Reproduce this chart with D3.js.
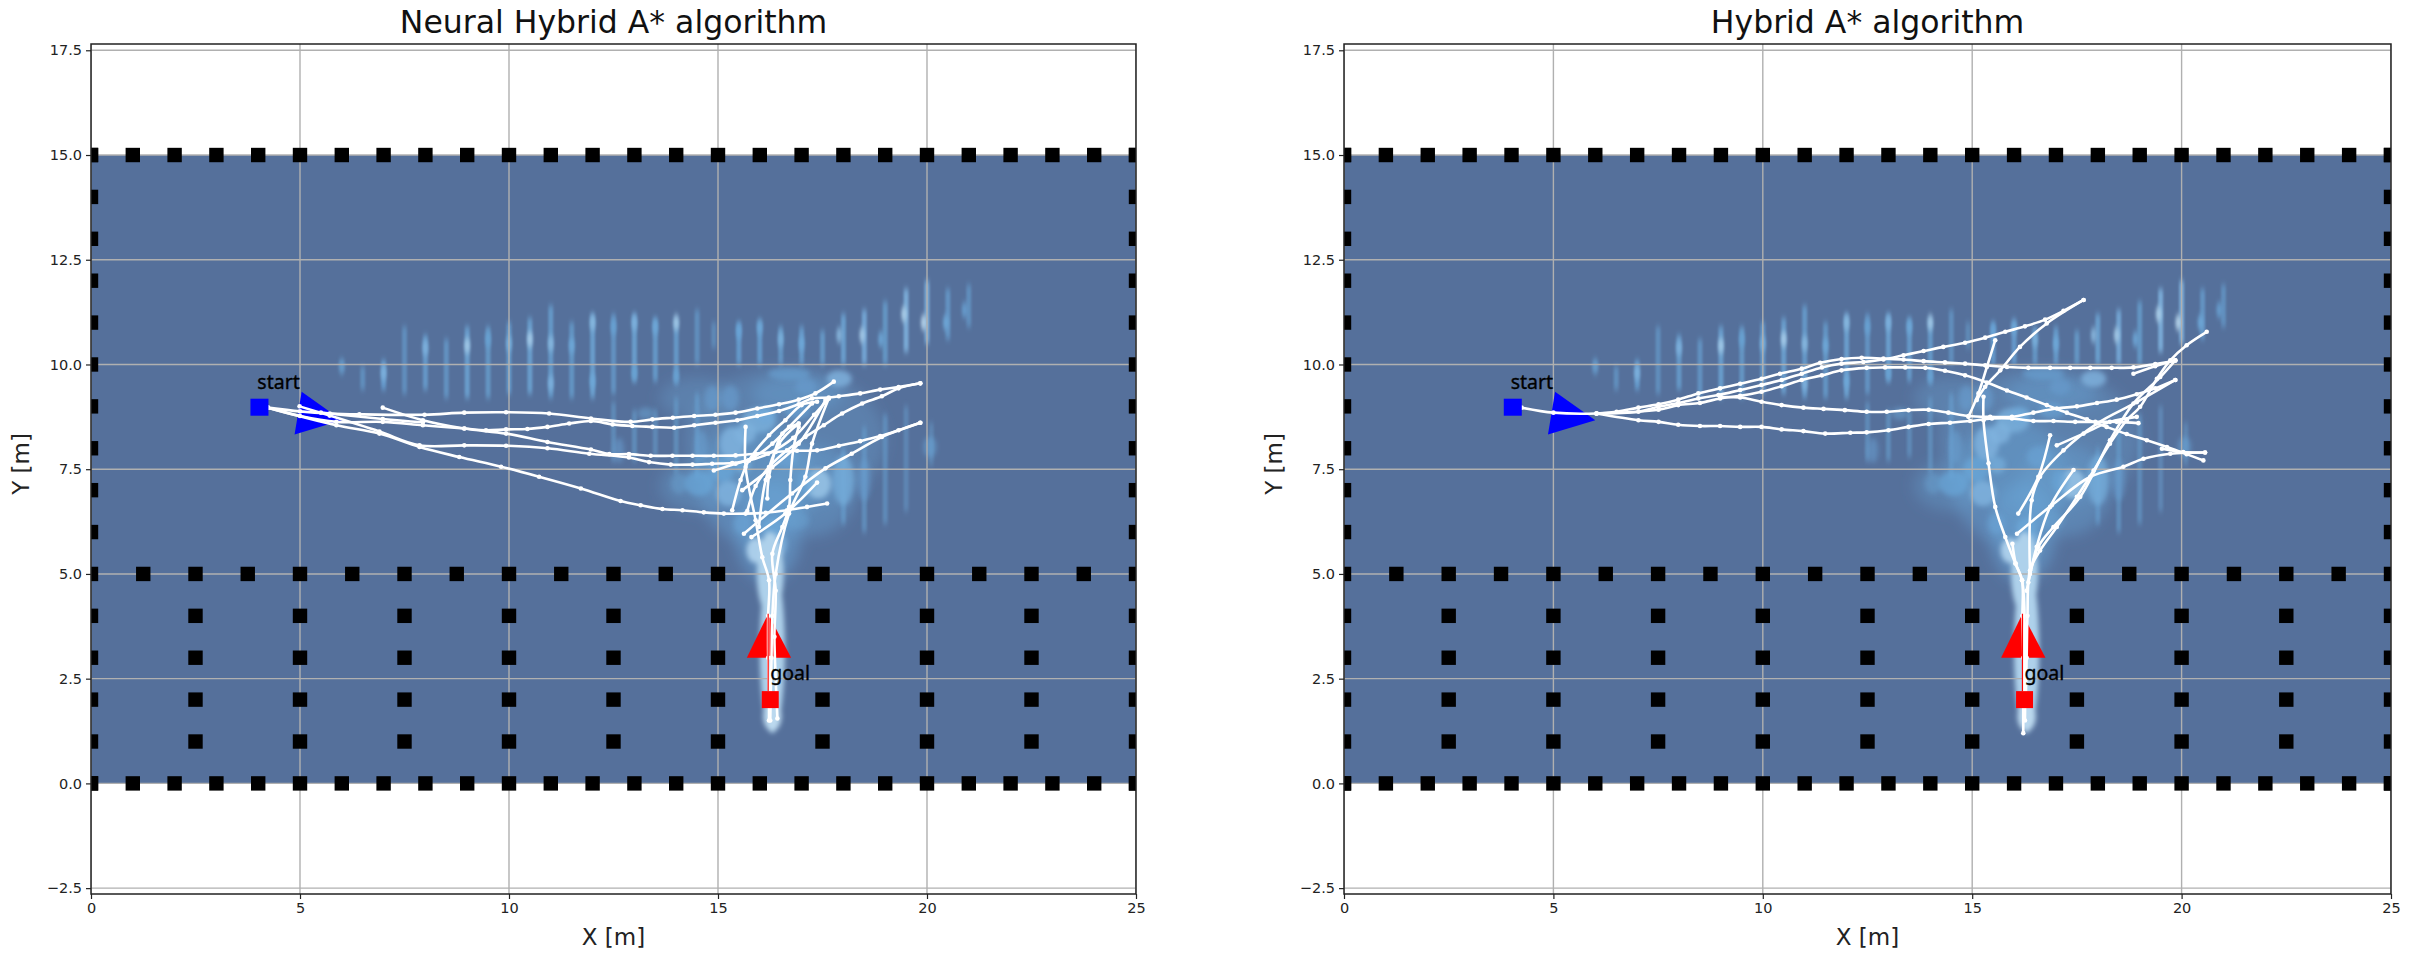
<!DOCTYPE html>
<html><head><meta charset="utf-8">
<script src="https://cdn.jsdelivr.net/npm/d3@7/dist/d3.min.js"></script>
<style>html,body{margin:0;background:#fff}svg{display:block}text{font-family:"DejaVu Sans"}</style>
</head><body><svg id="c" width="2411" height="961"></svg>
<script>
const titles = ["Neural Hybrid A* algorithm", "Hybrid A* algorithm"];
const xTicks = [0,5,10,15,20,25];
const yTicks = [-2.5,0,2.5,5,7.5,10,12.5,15,17.5];
const xDomain = [0,25], yDomain = [-2.64,17.65];
const heatExtent = {x0:0,x1:25,y0:0,y1:15};

// obstacle coordinates
const wallCols = [0,1,2,3,4,5,6,7,8,9,10,11,12,13,14,15,16,17,18,19,20,21,22,23,24,25];
const wallRows = [0,1,2,3,4,5,6,7,8,9,10,11,12,13,14,15];
const midRowX = [1.25,2.5,3.75,5,6.25,7.5,8.75,10,11.25,12.5,13.75,15,17.5,18.75,20,21.25,22.5,23.75];
const pillarX = [2.5,5,7.5,10,12.5,15,17.5,20,22.5];
const pillarY = [1,2,3,4];

// vertical streaks of the heat map: x, y from, y to, strength
const streaks = [
[6,9.9,10.05,.3],[6.5,9.4,9.95,.3],[7,9.4,10.1,.4],[7.5,9.3,10.9,.3],[8,9.4,10.7,.38],[8.5,9.2,10.6,.33],
[9,9.2,10.9,.42],[9.5,9.2,10.9,.36],[10,9.3,11,.4],[10.5,9.3,11.1,.42],[11,9.2,11.4,.38],[11.5,9.2,11,.35],
[12,9.2,11.2,.42],[12.5,9.3,11.2,.33],[13,9.6,11.2,.42],[13.5,9.6,11.1,.38],[14,9.6,11.1,.38],[14.5,10,11.3,.3],
[14.9,10.4,11,.25],[15.5,10,11,.4],[16,10,11,.4],[16.5,10,10.9,.36],[17,10,10.9,.38],[17.5,10,10.8,.36],
[18,10,11.2,.42],[18.5,10,11.3,.46],[19,10,11.5,.36],[19.5,10.3,11.8,.5],[20,10.5,12,.5],[20.5,10.6,11.8,.34],[21,10.9,11.9,.3],
[12.5,7.7,9.1,.25],[13,7.7,8.9,.27],[13.5,7.8,8.9,.25],[14,7.4,9.2,.27],[14.5,7.3,9.3,.3],[18,6.2,8,.3],[18.5,6,8.5,.28],[19,6.2,8.8,.26],[19.5,6.5,9,.22],[20.1,7.6,8.6,.2]
];
// bright spots on those streaks: x, y, strength
const spots = [
[7,9.8,.5],[6,9.95,.28],[8,10.4,.5],[9,10.45,.68],[9.5,10.6,.35],[10,10.5,.48],[10.5,10.6,.7],[11,10.5,.55],[11,9.55,.5],
[11.5,10.45,.42],[12,11,.55],[12,9.6,.42],[12.5,10.9,.35],[13,11,.5],[13.5,10.9,.42],[14,11,.68],[15.5,10.8,.4],[16,10.9,.42],[16.5,10.6,.48],
[17,10.5,.42],[17.9,10.7,.55],[18.45,10.7,.68],[18.9,10.6,.42],[19.45,11.2,.72],[19.92,11,.78],[20.45,11,.42],[20.9,11.3,.33],[14,9.7,.35],[13,9.8,.35]
];
// broad haze of the funnel around the goal lane: x, y, radius x, radius y, strength
const blobs = [
[16.6,8.2,2.4,1.7,.12],[15.9,7.2,1.4,1.5,.2],[17.2,7,1.1,1.1,.18],[16.2,6,.8,1.2,.25],[16.9,9.3,1.1,.45,.18],[14.5,7.1,.9,.6,.14],[14.5,9.2,.9,.5,.12]
];
// mottled light patches inside the funnel and along the lane: x, y, radius x, radius y, strength
const patches = [
[17.9,9.66,.3,.2,.5],[16.7,9.78,.5,.15,.35],[17.1,9.47,.25,.2,.3],[15.98,8.67,.4,.3,.48],[15.34,8.11,.3,.4,.5],[15.66,8.35,.25,.25,.5],
[14.86,9.2,.18,.3,.3],[15.3,9.2,.2,.3,.3],[16.14,8.8,.25,.2,.42],[14.55,7.16,.35,.3,.4],[14.07,7.16,.2,.25,.28],[15.26,6.92,.3,.3,.5],
[17.4,7.15,.3,.35,.6],[18,7.24,.25,.6,.45],[18.5,7.24,.15,.5,.3],[16.6,7.8,.3,.25,.36],[17.1,7.2,.2,.3,.38],[15.9,5.56,.22,.3,.7],
[16.45,5.7,.2,.3,.5],[16.3,6.1,.25,.25,.42],[15.58,6.2,.2,.25,.36],[16.93,6.28,.25,.2,.28],[20.07,8.03,.15,.25,.35],[14.6,8.03,.15,.4,.32],
[12.63,7.95,.12,.3,.3],[13.27,8.83,.2,.15,.28],[15.1,7.5,.3,.3,.4],[16.9,8.9,.3,.2,.35],[15.6,7.6,.2,.2,.45],
[16.25,5,.32,1,.72],[16.3,3.2,.3,2,.72],[16.3,1.6,.22,.35,.78]
];

// start and goal
const startPt = [4.03,8.98], goalPt = [16.25,2];
const startArrow = [[5.04,9.35],[6.0,8.67],[4.87,8.33]];
const goalArrow = [[16.2,4.05],[16.75,3],[15.69,3]];
const goalShaft = [[16.2,2.2],[16.2,4.05]];
const startLabel = [3.98,9.42], goalLabel = [16.25,2.47];

// searched paths, left panel
const pathsLeft = [
[[4.23,8.97],[5,8.88],[5.71,8.83],[6.42,8.81],[7.98,8.8],[8.93,8.85],[9.93,8.86],[10.96,8.83],[11.96,8.71],[12.91,8.63],[13.43,8.69],[13.92,8.73],[14.43,8.77],[14.94,8.8],[15.42,8.85],[15.94,8.95],[16.46,9.05],[16.93,9.16],[17.33,9.31],[17.77,9.59]],
[[4.23,8.97],[5,8.77],[5.87,8.63],[6.98,8.63],[7.94,8.55],[8.93,8.47],[9.45,8.43],[9.93,8.45],[10.44,8.46],[10.92,8.51],[11.44,8.59],[11.96,8.65],[12.48,8.57],[12.95,8.53],[13.43,8.51],[13.95,8.49],[14.43,8.55],[14.94,8.61],[15.46,8.67],[15.94,8.77],[16.46,8.89],[16.93,9.05],[17.25,9.19],[17.65,9.21],[17.89,9.24],[18.4,9.31],[18.88,9.4],[19.32,9.46],[19.84,9.55]],
[[6.98,8.97],[7.94,8.67],[8.93,8.47],[9.93,8.35],[10.92,8.15],[11.96,7.97],[12.4,7.86],[12.87,7.86],[13.39,7.82],[13.91,7.82],[14.39,7.82],[14.9,7.82],[15.42,7.83],[15.9,7.87],[16.38,7.91],[16.89,7.94],[17.37,7.95],[17.89,8.06],[18.4,8.17],[18.88,8.29],[19.32,8.43],[19.84,8.61]],
[[4.99,9],[5.71,8.78],[6.9,8.4],[7.86,8.07],[8.93,8.07],[9.93,8.06],[10.92,8],[11.92,7.87],[12.87,7.78],[13.35,7.67],[13.87,7.61],[14.39,7.61],[14.86,7.63],[15.34,7.65],[15.74,7.71],[16.2,7.87],[16.8,8.25],[17.3,8.8],[17.65,9.19]],
[[4.23,8.97],[5.87,8.55],[6.9,8.35],[7.86,8.03],[8.81,7.79],[9.81,7.56],[10.72,7.32],[11.72,7.04],[12.67,6.74],[13.15,6.64],[13.67,6.55],[14.15,6.52],[14.66,6.47],[15.14,6.44],[15.66,6.44],[16.14,6.46],[16.65,6.52],[17.13,6.6],[17.61,6.68]],
[[5.5,8.85],[6.98,8.7],[7.94,8.62]],
[[19.84,9.55],[19.32,9.43],[18.92,9.24],[18.45,9.07],[17.97,8.83],[17.53,8.55],[17.09,8.27],[16.65,7.95],[16.22,7.55],[15.9,7.1],[15.7,6.5]],
[[15.66,8.51],[15.66,7.55],[15.9,6.28],[16.06,5.4],[16.22,4.85],[16.2,4],[16.2,3],[16.22,2],[16.22,1.5]],
[[15.34,6.52],[15.54,7.24],[15.74,7.71],[16.22,8.31],[16.61,8.67],[17,9.03],[17.37,9.11]],
[[15.58,7],[16.3,7.55],[16.93,8.11],[17.57,9.15]],
[[14.9,7.47],[15.42,7.63],[15.86,7.79],[16.3,8.11],[16.7,8.51],[17.25,9.07]],
[[19.84,8.61],[18.92,8.27],[18.2,7.87],[17.57,7.52],[16.77,6.92],[15.62,5.96]],
[[15.8,5.88],[16.61,6.44],[17.37,7.18]],
[[16.18,6.8],[16.22,7.32],[16.54,8.35],[16.93,8.59]],
[[16.93,8.51],[16.81,8.03],[16.73,7.24],[16.7,6.6],[16.54,6.12],[16.3,5.48],[16.38,4.6],[16.35,3.5],[16.38,2.5],[16.42,1.55]],
[[17.65,9.19],[17.25,8.11],[17.09,7.32],[16.7,6.44],[16.38,5],[16.3,4],[16.28,3],[16.25,1.5]],
[[15.98,6.12],[16.14,7.24],[16.46,8.11],[16.93,8.59]]
];
// searched paths, right panel
const pathsRight = [
[[4.24,8.97],[5,8.85],[6.03,8.83],[6.51,8.87],[7.03,8.97],[7.51,9.05],[7.98,9.16],[8.46,9.31],[8.98,9.43],[9.46,9.54],[9.97,9.66],[10.41,9.78],[10.93,9.9],[11.37,10.04],[11.88,10.13],[12.36,10.16],[12.88,10.14],[13.36,10.12],[13.84,10.08],[14.35,10.05],[14.83,10.02],[15.31,9.98],[15.83,9.94],[16.34,9.92],[16.86,9.92],[17.34,9.92],[17.82,9.92],[18.33,9.92],[18.85,9.93],[19.37,10.01],[19.85,10.09]],
[[6.03,8.83],[7.03,8.87],[7.51,8.99],[7.98,9.08],[8.46,9.19],[8.94,9.27],[9.46,9.39],[9.97,9.51],[10.45,9.63],[10.93,9.78],[11.41,9.93],[11.88,10.02],[12.4,10.06],[12.88,10.12],[13.36,10.22],[13.84,10.32],[14.31,10.42],[14.83,10.52],[15.31,10.64],[15.79,10.78],[16.26,10.91],[16.74,11.07],[17.18,11.28],[17.66,11.54]],
[[6.03,8.83],[7.51,8.92],[7.98,9.03],[8.5,9.08],[8.98,9.19],[9.46,9.25],[9.97,9.35],[10.45,9.48],[10.93,9.63],[11.41,9.74],[11.88,9.86],[12.48,9.92],[12.92,9.93],[13.4,9.93],[13.88,9.92],[14.35,9.85],[14.83,9.74],[15.35,9.57],[15.83,9.38],[16.3,9.21],[16.78,9.03],[17.26,8.85],[17.74,8.69],[18.21,8.51],[18.69,8.34],[19.17,8.19],[19.65,8.03],[20.12,7.86],[20.52,7.71]],
[[9.0,9.22],[9.46,9.21],[9.97,9.11],[10.45,9.03],[10.97,8.97],[11.45,8.94],[11.96,8.91],[12.48,8.87],[12.96,8.87],[13.48,8.91],[13.96,8.92],[14.43,8.85],[14.91,8.77],[15.43,8.75],[15.95,8.75],[16.46,8.85],[17.02,8.95],[17.5,9],[17.98,9.08],[18.45,9.16],[18.93,9.29],[19.37,9.43],[19.85,9.63]],
[[6.03,8.83],[7.03,8.67],[7.51,8.63],[7.98,8.56],[8.5,8.53],[8.98,8.53],[9.46,8.51],[9.97,8.51],[10.45,8.45],[10.97,8.41],[11.49,8.35],[12.09,8.37],[12.48,8.38],[13,8.43],[13.48,8.51],[13.96,8.58],[14.47,8.61],[14.95,8.65],[15.47,8.71],[15.95,8.71],[16.46,8.65],[16.94,8.65],[17.46,8.63],[17.94,8.63],[18.45,8.63],[18.97,8.6]],
[[20.6,10.78],[20.12,10.46],[19.73,10.1],[19.41,9.66],[19.01,8.99],[18.69,8.67],[18.29,8.11],[17.9,7.47],[17.5,6.84],[17.02,6.12],[16.62,5.56],[16.38,5.08],[16.32,4],[16.3,3],[16.28,2]],
[[15.55,10.58],[15.35,9.94],[15.15,9.31],[14.91,8.75]],
[[17.66,11.54],[16.78,10.98],[16.14,10.42],[15.67,9.86],[15.31,9.47],[15.11,9.15]],
[[15.27,9.23],[15.27,8.67],[15.39,7.64],[15.55,6.6],[15.79,5.88],[16.03,5.25],[16.19,4.85],[16.2,4],[16.22,3],[16.22,2],[16.22,1.2]],
[[16.1,6.44],[16.58,7.32],[16.86,8.31]],
[[16.38,5],[16.42,6.76],[16.62,7.32],[17.18,7.95],[17.98,8.59],[18.93,9.1],[19.85,9.63]],
[[16.07,5.96],[16.9,6.64],[17.82,7.32],[18.61,7.56],[19.09,7.75],[19.73,7.87],[20.56,7.9]],
[[16.3,4.6],[16.54,5.65],[16.86,6.6],[17.42,7.48]],
[[17.02,8.07],[17.66,8.35],[18.29,8.63],[18.93,8.75]],
[[16.34,4.8],[16.58,5.65],[16.94,6.12],[17.58,6.84],[18.29,8.19],[18.85,9.07],[19.49,9.7],[19.85,10.1]],
[[18.85,9.78],[19.37,9.96],[19.85,10.1]],
[[19.53,7.99],[20.04,7.91],[20.56,7.9]],
[[15.96,5.72],[16.04,5.25],[16.19,4.85],[16.26,3.5],[16.26,1.5]]
];

const panels = [
 {x0:91,x1:1136,title:titles[0],paths:pathsLeft,id:"a"},
 {x0:1344,x1:2391,title:titles[1],paths:pathsRight,id:"b"}
];
const plotTop=44,plotBottom=894;
const svg=d3.select("#c");
const defs=svg.append("defs");
defs.append("filter").attr("id","bs").attr("x","-100%").attr("width","300%").attr("y","-30%").attr("height","160%").append("feGaussianBlur").attr("stdDeviation","1.3 3");
defs.append("filter").attr("id","bb").attr("x","-60%").attr("width","220%").attr("y","-60%").attr("height","220%").append("feGaussianBlur").attr("stdDeviation","7");
defs.append("filter").attr("id","bn").attr("x","-100%").attr("width","300%").attr("y","-50%").attr("height","200%").append("feGaussianBlur").attr("stdDeviation","1.6 3");
defs.append("filter").attr("id","bp").attr("x","-50%").attr("width","200%").attr("y","-50%").attr("height","200%").append("feGaussianBlur").attr("stdDeviation","2.6");
const heatColor=d3.scaleLinear().domain([0,.4,1]).range(["#5d83ae","#6aa6d8","#eaf6fc"]);
const curve=d3.curveCatmullRom.alpha(.5);

panels.forEach(p=>{
 const x=d3.scaleLinear().domain(xDomain).range([p.x0,p.x1]);
 const y=d3.scaleLinear().domain(yDomain).range([plotBottom,plotTop]);
 const w=p.x1-p.x0,h=plotBottom-plotTop;
 defs.append("clipPath").attr("id","clip"+p.id).append("rect").attr("x",p.x0).attr("y",plotTop).attr("width",w).attr("height",h);
 const g=svg.append("g");
 const inner=g.append("g").attr("clip-path",`url(#clip${p.id})`);
 const hx=x(heatExtent.x0),hy=y(heatExtent.y1),hw=x(heatExtent.x1)-hx,hh=y(heatExtent.y0)-hy;
 defs.append("clipPath").attr("id","heat"+p.id).append("rect").attr("x",hx).attr("y",hy).attr("width",hw).attr("height",hh);
 inner.append("rect").attr("x",hx).attr("y",hy).attr("width",hw).attr("height",hh).attr("fill","#55709b");
 const heat=inner.append("g").attr("clip-path",`url(#heat${p.id})`);
 heat.append("g").attr("filter","url(#bb)").selectAll("ellipse").data(blobs).join("ellipse")
  .attr("cx",d=>x(d[0])).attr("cy",d=>y(d[1])).attr("rx",d=>x(d[2])-x(0)).attr("ry",d=>y(0)-y(d[3]))
  .attr("fill",d=>heatColor(d[4]+.15)).attr("fill-opacity",d=>Math.min(1,.25+d[4]));
 heat.append("g").attr("filter","url(#bs)").selectAll("rect").data(streaks).join("rect")
  .attr("x",d=>x(d[0])-2.5).attr("width",5).attr("y",d=>y(d[2])).attr("height",d=>y(d[1])-y(d[2]))
  .attr("fill",d=>heatColor(d[3])).attr("fill-opacity",d=>.35+d[3]);
 heat.append("g").attr("filter","url(#bn)").selectAll("ellipse").data(spots).join("ellipse")
  .attr("cx",d=>x(d[0])).attr("cy",d=>y(d[1])).attr("rx",3).attr("ry",8)
  .attr("fill",d=>heatColor(d[2])).attr("fill-opacity",.85);
 heat.append("g").attr("filter","url(#bp)").selectAll("ellipse").data(patches).join("ellipse")
  .attr("cx",d=>x(d[0])).attr("cy",d=>y(d[1])).attr("rx",d=>x(d[2])-x(0)).attr("ry",d=>y(0)-y(d[3]))
  .attr("fill",d=>heatColor(d[4])).attr("fill-opacity",d=>Math.min(1,.3+d[4]));
 // grid
 const grid=inner.append("g").attr("stroke","#b0b0b0").attr("stroke-width",1.4);
 grid.selectAll("line.v").data(xTicks).join("line").attr("class","v").attr("x1",d=>x(d)).attr("x2",d=>x(d)).attr("y1",plotTop).attr("y2",plotBottom);
 grid.selectAll("line.h").data(yTicks).join("line").attr("class","h").attr("x1",p.x0).attr("x2",p.x1).attr("y1",d=>y(d)).attr("y2",d=>y(d));
 // obstacles
 const obst=[];
 wallCols.forEach(c=>{obst.push([c,15]);obst.push([c,0]);});
 wallRows.forEach(r=>{obst.push([0,r]);obst.push([25,r]);});
 midRowX.forEach(c=>obst.push([c,5]));
 pillarX.forEach(c=>pillarY.forEach(r=>obst.push([c,r])));
 inner.append("g").selectAll("rect").data(obst).join("rect").attr("x",d=>x(d[0])-7.2).attr("y",d=>y(d[1])-7.2).attr("width",14.4).attr("height",14.4).attr("fill","#000");
 // arrows
 const ln=d3.line().x(d=>x(d[0])).y(d=>y(d[1]));
 inner.append("path").attr("d",ln(startArrow)+"Z").attr("fill","#0000ff");
 inner.append("path").attr("d",ln(goalArrow)+"Z").attr("fill","#ff0000");
 // paths
 const cl=d3.line().x(d=>x(d[0])).y(d=>y(d[1])).curve(curve);
 const pg=inner.append("g");
 pg.selectAll("path").data(p.paths).join("path").attr("d",cl).attr("fill","none").attr("stroke","#fff").attr("stroke-width",2.6).attr("stroke-linecap","round");
 pg.selectAll("circle").data(p.paths.flat()).join("circle").attr("cx",d=>x(d[0])).attr("cy",d=>y(d[1])).attr("r",2.3).attr("fill","#fff");
 inner.append("path").attr("d",ln(goalShaft)).attr("stroke","#ff0000").attr("stroke-width",1.2).attr("fill","none");
 // start, goal
 inner.append("rect").attr("x",x(startPt[0])-9).attr("y",y(startPt[1])-8.5).attr("width",18).attr("height",17).attr("fill","#0000ff");
 inner.append("rect").attr("x",x(goalPt[0])-8.5).attr("y",y(goalPt[1])-8.5).attr("width",17).attr("height",17).attr("fill","#ff0000");
 [["start",startLabel],["goal",goalLabel]].forEach(([t,pos])=>{
  inner.append("text").attr("x",x(pos[0])).attr("y",y(pos[1])).text(t).attr("font-size",19.5).attr("fill","#000").attr("stroke","#000").attr("stroke-width",.35).style("font-family",'"Noto Sans"');
 });
 // axes
 const ax=d3.axisBottom(x).tickValues(xTicks).tickFormat(d3.format("d")).tickSize(5).tickPadding(4);
 const ay=d3.axisLeft(y).tickValues(yTicks).tickFormat(d=>d<0?"\u2212"+d3.format(".1f")(-d):d3.format(".1f")(d)).tickSize(5).tickPadding(4);
 const gx=g.append("g").attr("transform",`translate(0,${plotBottom})`).call(ax);
 const gy=g.append("g").attr("transform",`translate(${p.x0},0)`).call(ay);
 [gx,gy].forEach(a=>{a.select(".domain").remove();a.selectAll("text").attr("font-size",14.5).attr("fill","#222").style("font-family",'"DejaVu Sans"');a.selectAll("line").attr("stroke","#222").attr("stroke-width",1.2);});
 g.append("rect").attr("x",p.x0).attr("y",plotTop).attr("width",w).attr("height",h).attr("fill","none").attr("stroke","#222").attr("stroke-width",1.5);
 g.append("text").attr("x",(p.x0+p.x1)/2).attr("y",33).attr("text-anchor","middle").attr("font-size",31.5).attr("fill","#111").text(p.title);
 g.append("text").attr("x",(p.x0+p.x1)/2).attr("y",945).attr("text-anchor","middle").attr("font-size",23).attr("fill","#222").text("X [m]");
 g.append("text").attr("transform",`translate(${p.x0-62},${(plotTop+plotBottom)/2-5}) rotate(-90)`).attr("text-anchor","middle").attr("font-size",23).attr("fill","#222").text("Y [m]");
});
</script></body></html>
